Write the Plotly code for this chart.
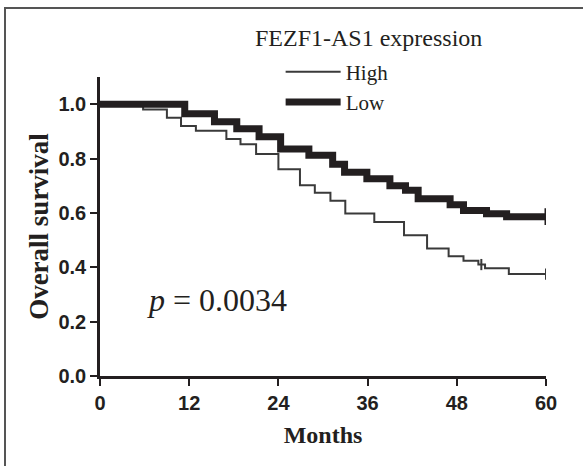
import plotly.graph_objects as go

# Kaplan-Meier step data (months, survival after step)
high_months = [0, 5.8, 9.0, 10.9, 12.9, 17.0, 18.9, 21.0, 24.0, 26.9, 28.9, 31.0, 33.0,
               36.9, 40.9, 44.0, 46.9, 48.9, 50.9, 51.8, 55.0, 60]
high_surv = [1.0, 0.98, 0.95, 0.92, 0.902, 0.872, 0.853, 0.817, 0.761, 0.702, 0.674, 0.645, 0.598,
             0.567, 0.518, 0.469, 0.441, 0.424, 0.41, 0.396, 0.375, 0.375]

low_months = [0, 11.4, 15.4, 18.4, 21.4, 24.3, 28.1, 31.3, 32.9, 35.9, 39.0, 41.1, 42.8,
              47.1, 48.9, 52.0, 54.7, 60]
low_surv = [1.0, 0.965, 0.935, 0.91, 0.88, 0.835, 0.812, 0.779, 0.75, 0.726, 0.70, 0.683, 0.652,
            0.63, 0.609, 0.597, 0.586, 0.586]

# censored observations (tick marks)
high_cens_t = [51.3, 60]
high_cens_s = [0.41, 0.375]
low_cens_t = [60]
low_cens_s = [0.586]

x_ticks = [0, 12, 24, 36, 48, 60]
y_ticks = [0.0, 0.2, 0.4, 0.6, 0.8, 1.0]

ink = "#231f20"
serif = "Liberation Serif, Times New Roman, serif"
sans = "Liberation Sans, Arial, sans-serif"

fig = go.Figure()

fig.add_trace(go.Scatter(
    x=high_months, y=high_surv, mode="lines", name="High", legendgroup="h",
    line=dict(shape="hv", color="#3a3a3a", width=2),
))
fig.add_trace(go.Scatter(
    x=low_months, y=low_surv, mode="lines", name="Low", legendgroup="l",
    line=dict(shape="hv", color=ink, width=7),
))
fig.add_trace(go.Scatter(
    x=high_cens_t, y=high_cens_s, mode="markers", showlegend=False,
    marker=dict(symbol="line-ns-open", size=8, color="#3a3a3a", line=dict(color="#3a3a3a", width=2)),
))
fig.add_trace(go.Scatter(
    x=low_cens_t, y=low_cens_s, mode="markers", showlegend=False,
    marker=dict(symbol="line-ns-open", size=12, color=ink, line=dict(color=ink, width=3)),
))

fig.update_layout(
    width=583, height=466, autosize=False,
    margin=dict(l=100, r=37, t=77, b=90, autoexpand=False),
    plot_bgcolor="white", paper_bgcolor="white",
    showlegend=True,
    legend=dict(
        x=0.405, y=1.085, xanchor="left", yanchor="top",
        font=dict(family=serif, size=21, color=ink),
        bgcolor="rgba(0,0,0,0)", itemwidth=55, tracegroupgap=0,
    ),
    xaxis=dict(
        range=[0, 60], tickvals=x_ticks, ticks="outside", ticklen=7, tickwidth=2,
        tickcolor=ink, showline=True, linecolor=ink, linewidth=2.5, showgrid=False,
        zeroline=False, tickfont=dict(family=sans, size=20, color=ink, weight="bold"),
        title=dict(text="Months", font=dict(family=serif, size=24, color=ink, weight="bold"), standoff=14),
    ),
    yaxis=dict(
        range=[0, 1.1], tickvals=y_ticks, tickformat=".1f", ticks="outside", ticklen=7,
        tickwidth=2, tickcolor=ink, showline=True, linecolor=ink, linewidth=2.5,
        showgrid=False, zeroline=False, tickfont=dict(family=sans, size=20, color=ink, weight="bold"),
        title=dict(text="Overall survival", font=dict(family=serif, size=27, color=ink, weight="bold"), standoff=2),
    ),
    annotations=[
        dict(
            x=6.0, y=0.28, xref="x", yref="y", xanchor="left", yanchor="middle",
            text="<i>p</i> = 0.0034", showarrow=False,
            font=dict(family=serif, size=32, color=ink),
        ),
        dict(
            x=0.343, y=1.13, xref="paper", yref="paper", xanchor="left", yanchor="middle",
            text="FEZF1-AS1 expression", showarrow=False,
            font=dict(family=serif, size=24, color=ink),
        ),
    ],
    shapes=[dict(
        type="rect", xref="paper", yref="paper",
        x0=-0.213, x1=1.3, y0=-0.5, y1=1.231,
        line=dict(color="#555555", width=2), layer="below",
    )],
)

# drop the browser's default page margin so the figure sits at the window corner
fig.write_html("out.html", config={"displayModeBar": False},
               post_script="document.body.style.margin='0';")
